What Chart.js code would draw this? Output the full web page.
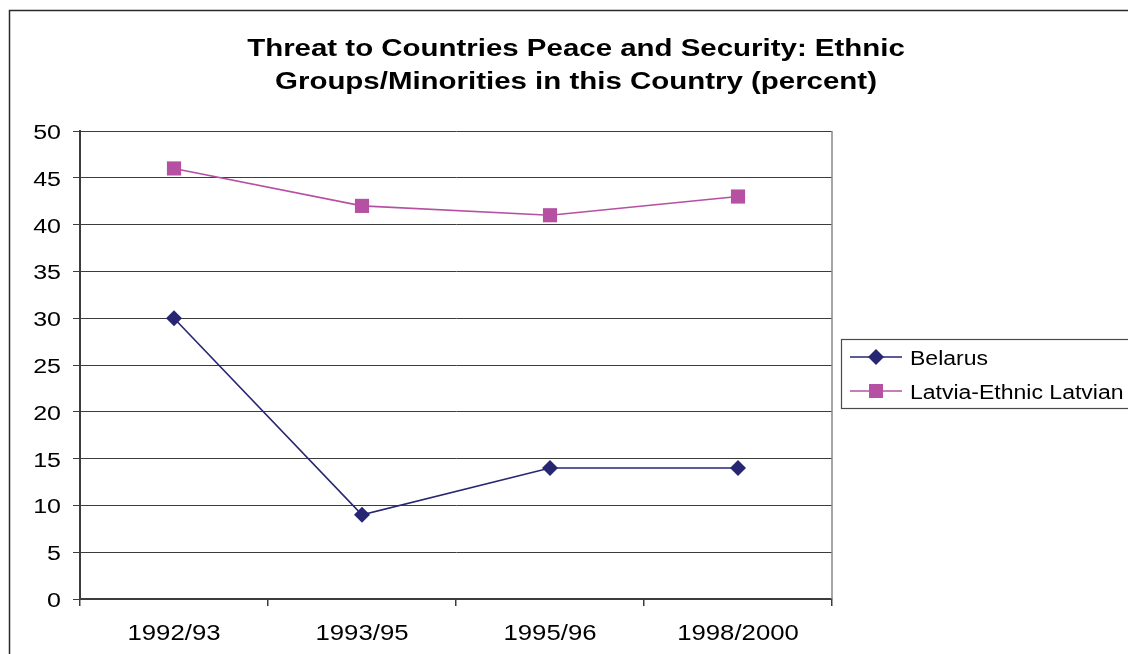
<!DOCTYPE html>
<html>
<head>
<meta charset="utf-8">
<script src="https://cdn.jsdelivr.net/npm/chart.js@4.4.0/dist/chart.umd.min.js"></script>
<style>
  html, body { margin: 0; padding: 0; background: #fff; }
  canvas { display: block; }
</style>
</head>
<body>
<canvas id="c" width="1128" height="654"></canvas>
<script>
// Survey periods and share of respondents naming ethnic groups/minorities as a threat
const categories = ['1992/93', '1993/95', '1995/96', '1998/2000'];
const belarus = [30, 9, 14, 14];
const latviaEthnicLatvian = [46, 42, 41, 43];
const yTicks = [0, 5, 10, 15, 20, 25, 30, 35, 40, 45, 50];
const titleLines = ['Threat to Countries Peace and Security: Ethnic', 'Groups/Minorities in this Country (percent)'];
const seriesNames = ['Belarus', 'Latvia-Ethnic Latvian'];

const NAVY = '#262673';
const ORCHID = '#B650A2';
const AXIS = '#3c3c3c';
const SANS = '"Liberation Sans", Arial, sans-serif';

// Horizontally widened text, like the old office renderer output
function wideText(ctx, text, x, y, font, align, sx) {
  ctx.save();
  ctx.font = font;
  ctx.fillStyle = '#000';
  ctx.textBaseline = 'alphabetic';
  const w = ctx.measureText(text).width * sx;
  let left = x;
  if (align === 'center') left = x - w / 2;
  else if (align === 'right') left = x - w;
  ctx.translate(left, y);
  ctx.scale(sx, 1);
  ctx.textAlign = 'left';
  ctx.fillText(text, 0, 0);
  ctx.restore();
}

function diamond(ctx, x, y, r, color) {
  ctx.save();
  ctx.fillStyle = color;
  ctx.beginPath();
  ctx.moveTo(x, y - r); ctx.lineTo(x + r, y); ctx.lineTo(x, y + r); ctx.lineTo(x - r, y);
  ctx.closePath();
  ctx.fill();
  ctx.restore();
}

const decor = {
  id: 'decor',
  beforeDraw(chart) {
    const ctx = chart.ctx;
    ctx.save();
    ctx.fillStyle = '#fff';
    ctx.fillRect(0, 0, chart.width, chart.height);
    // outer chart frame (continues past the right and bottom edges)
    ctx.strokeStyle = '#2a2a2a';
    ctx.lineWidth = 1.5;
    ctx.strokeRect(9.5, 10.5, chart.width + 20, chart.height + 20);
    ctx.restore();
  },
  beforeDatasetsDraw(chart) {
    // plot area frame on the right side
    const ctx = chart.ctx;
    const a = chart.chartArea;
    ctx.save();
    ctx.strokeStyle = '#888';
    ctx.lineWidth = 1.5;
    ctx.beginPath();
    ctx.moveTo(a.right, a.top); ctx.lineTo(a.right, a.bottom);
    ctx.stroke();
    ctx.restore();
  },
  afterDraw(chart) {
    const ctx = chart.ctx;
    const xs = chart.scales.x, ys = chart.scales.y;

    // title
    const cx = 576;
    wideText(ctx, titleLines[0], cx, 56, 'bold 23px ' + SANS, 'center', 1.28);
    wideText(ctx, titleLines[1], cx, 89, 'bold 23px ' + SANS, 'center', 1.28);

    // y tick labels
    yTicks.forEach(v => {
      wideText(ctx, String(v), 61, ys.getPixelForValue(v) + 8, '20px ' + SANS, 'right', 1.25);
    });
    // x category labels
    categories.forEach((c, i) => {
      wideText(ctx, c, xs.getPixelForValue(i), 639.5, '22px ' + SANS, 'center', 1.17);
    });

    // legend
    ctx.save();
    ctx.strokeStyle = '#4a4a4a';
    ctx.lineWidth = 1.2;
    ctx.strokeRect(841.5, 339.5, 320, 69);
    const rows = [357, 391];
    const colors = [NAVY, ORCHID];
    rows.forEach((ry, i) => {
      ctx.strokeStyle = colors[i];
      ctx.lineWidth = 1.5;
      ctx.beginPath();
      ctx.moveTo(850, ry); ctx.lineTo(902, ry);
      ctx.stroke();
      if (i === 0) diamond(ctx, 876, ry, 8, NAVY);
      else { ctx.fillStyle = ORCHID; ctx.fillRect(869, ry - 7, 14, 14); }
      wideText(ctx, seriesNames[i], 910, ry + 7.5, '20px ' + SANS, 'left', 1.15);
    });
    ctx.restore();
  }
};

new Chart(document.getElementById('c'), {
  type: 'line',
  data: {
    labels: categories,
    datasets: [
      {
        label: seriesNames[0],
        data: belarus,
        borderColor: NAVY,
        backgroundColor: NAVY,
        borderWidth: 1.6,
        pointStyle: 'rectRot',
        pointRadius: 8,
        pointBorderWidth: 0,
        tension: 0,
        fill: false
      },
      {
        label: seriesNames[1],
        data: latviaEthnicLatvian,
        borderColor: ORCHID,
        backgroundColor: ORCHID,
        borderWidth: 1.6,
        pointStyle: 'rect',
        pointRadius: 10,
        pointBorderWidth: 0,
        tension: 0,
        fill: false
      }
    ]
  },
  options: {
    responsive: false,
    animation: false,
    devicePixelRatio: 1,
    layout: { padding: { top: 131, right: 296, left: 0, bottom: 0 } },
    plugins: {
      legend: { display: false },
      title: { display: false },
      tooltip: { enabled: false }
    },
    scales: {
      x: {
        type: 'category',
        offset: true,
        grid: { offset: true, drawOnChartArea: false, drawTicks: true, tickLength: 7, color: AXIS, lineWidth: 1.5 },
        border: { color: AXIS, width: 2 },
        ticks: { display: false },
        afterFit(scale) { scale.height = 55; }
      },
      y: {
        min: 0,
        max: 50,
        ticks: { display: false, stepSize: 5 },
        grid: { color: AXIS, lineWidth: 1, tickLength: 7, drawTicks: true },
        border: { color: AXIS, width: 2 },
        afterFit(scale) { scale.width = 80; }
      }
    }
  },
  plugins: [decor]
});
</script>
</body>
</html>
